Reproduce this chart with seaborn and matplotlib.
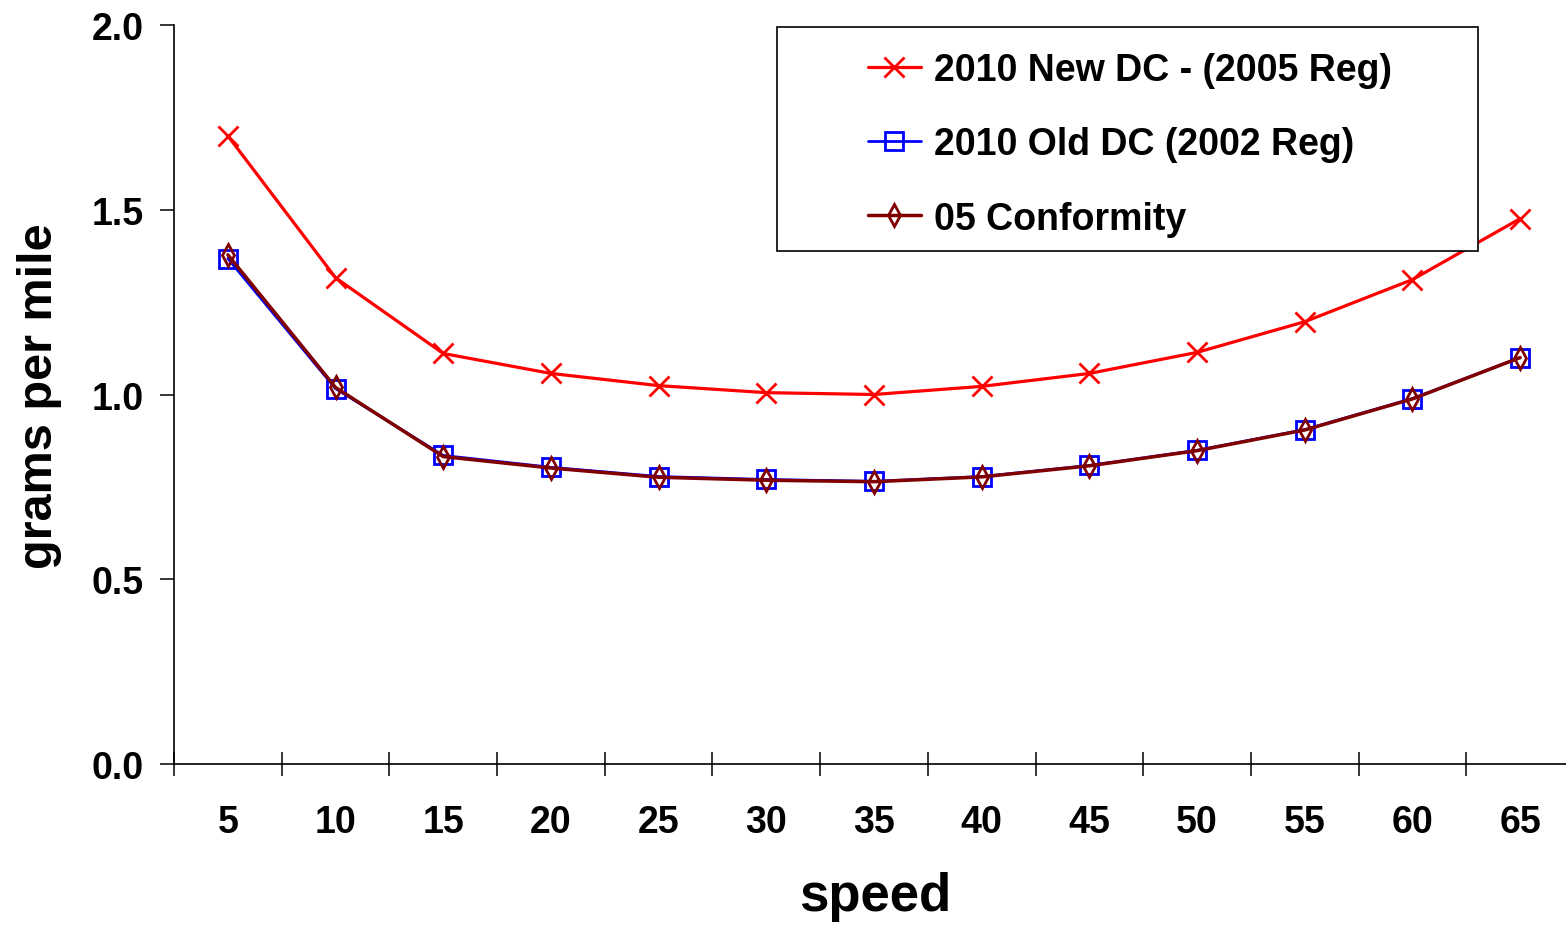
"""
Emission rate vs speed, three driving-cycle series
"""
import matplotlib
matplotlib.use('Agg')
from matplotlib.patches import Rectangle
from matplotlib.pyplot import subplots
from matplotlib.ticker import FixedLocator
from pandas import DataFrame
from seaborn import lineplot
from seaborn import set_style

SPEED = ['5', '10', '15', '20', '25', '30', '35', '40', '45', '50', '55', '60', '65']
NEW_DC_2005 = [1.700, 1.316, 1.111, 1.057, 1.024, 1.005, 1.000, 1.022, 1.057, 1.114, 1.197, 1.311, 1.476]
OLD_DC_2002 = [1.368, 1.016, 0.835, 0.803, 0.778, 0.770, 0.765, 0.778, 0.808, 0.849, 0.905, 0.989, 1.100]
CONFORMITY_05 = [1.378, 1.019, 0.832, 0.801, 0.776, 0.768, 0.764, 0.777, 0.807, 0.848, 0.904, 0.988, 1.100]
LABELS = ['2010 New DC - (2005 Reg)', '2010 Old DC (2002 Reg)', '05 Conformity']
Y_TICKS = [0.0, 0.5, 1.0, 1.5, 2.0]

FONT = 'Liberation Sans'
W, H = 1566, 928

if __name__ == '__main__':
    set_style('white')
    rc = matplotlib.rcParams
    rc['font.family'] = [FONT, 'DejaVu Sans']
    rc['font.weight'] = 'bold'
    for key in ['text.color', 'axes.labelcolor', 'xtick.color', 'ytick.color']:
        rc[key] = 'black'

    df = DataFrame({'speed': SPEED, LABELS[0]: NEW_DC_2005, LABELS[1]: OLD_DC_2002, LABELS[2]: CONFORMITY_05})
    long_df = df.melt(id_vars='speed', var_name='series', value_name='gpm')

    fig, ax = subplots(figsize=(W / 100, H / 100), dpi=100)
    ax.set_position([174 / W, (H - 765) / H, 1400 / W, 739 / H])

    styles = {
        LABELS[0]: dict(color='#ff0000', marker='x', ms=14, mew=2, lw=2.3),
        LABELS[1]: dict(color='#0000ff', marker='s', ms=13, mew=2, lw=2.0, mfc='none'),
        LABELS[2]: dict(color='#800000', marker='d', ms=11, mew=2, lw=2.5, mfc='none'),
    }
    for name in LABELS:
        sub = long_df[long_df['series'] == name]
        st = styles[name]
        lineplot(data=sub, x='speed', y='gpm', ax=ax, label=name, color=st['color'],
                 marker=st['marker'], markersize=st['ms'], markeredgewidth=st['mew'],
                 markeredgecolor=st['color'], markerfacecolor=st.get('mfc', st['color']),
                 linewidth=st['lw'], clip_on=False)

    ax.set_xlim(-0.5, len(SPEED) - 0.5)
    ax.set_ylim(0, 2.0)
    ax.set_yticks(Y_TICKS)
    ax.set_yticklabels(['{:.1f}'.format(v) for v in Y_TICKS])
    ax.set_xticks(range(len(SPEED)))
    ax.set_xticklabels(SPEED)
    ax.xaxis.set_minor_locator(FixedLocator([i - 0.5 for i in range(len(SPEED) + 1)]))

    for side in ['top', 'right']:
        ax.spines[side].set_visible(False)
    for side in ['left', 'bottom']:
        ax.spines[side].set_color('black')
        ax.spines[side].set_linewidth(1.2)

    ax.tick_params(axis='x', which='major', length=0, pad=29, labelsize=27)
    ax.tick_params(axis='x', which='minor', bottom=True, direction='inout', length=17, width=1.1, color='black')
    ax.tick_params(axis='y', which='major', left=True, direction='out', length=10, width=1.1, color='black',
                   pad=12, labelsize=27)
    for lab in ax.get_xticklabels() + ax.get_yticklabels():
        lab.set_fontweight('bold')

    ax.set_xlabel('speed', fontsize=38, fontweight='bold')
    ax.xaxis.set_label_coords(875 / W, (H - 897) / H, transform=fig.transFigure)
    ax.set_ylabel('grams per mile', fontsize=35, fontweight='bold')
    ax.yaxis.set_label_coords(40 / W, (H - 396) / H, transform=fig.transFigure)
    ax.xaxis.label.set_va('center')
    ax.yaxis.label.set_va('center')

    # legend box drawn as a plain rectangle, legend itself without frame
    box = Rectangle((777 / W, (H - 252) / H), 701 / W, 224 / H, transform=fig.transFigure,
                    facecolor='white', edgecolor='black', linewidth=1.2, zorder=4, clip_on=False)
    ax.add_patch(box)
    leg = ax.legend(loc='upper left', bbox_to_anchor=(868 / W, (H - 53) / H), bbox_transform=fig.transFigure,
                    frameon=False, prop={'family': FONT, 'weight': 'bold', 'size': 27},
                    handlelength=1.4, handletextpad=0.35, labelspacing=1.02, borderpad=0, borderaxespad=0)
    leg.set_zorder(5)

    fig.savefig('out.png', dpi=100)
